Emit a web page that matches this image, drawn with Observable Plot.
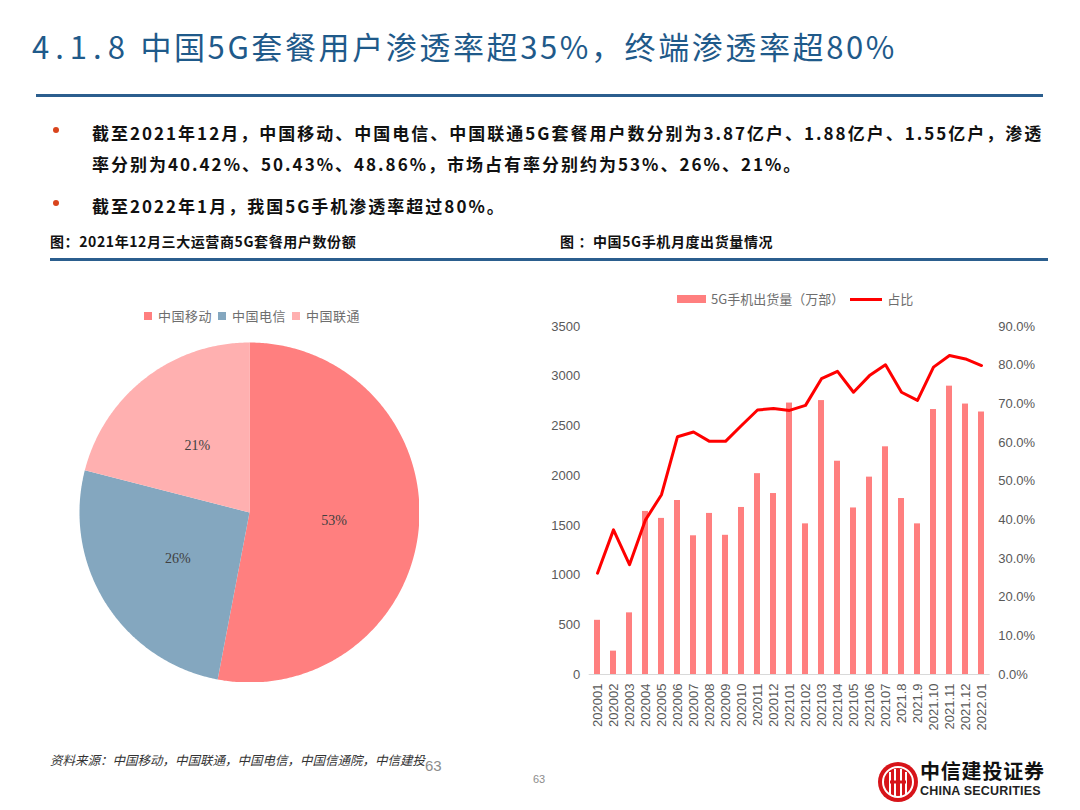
<!DOCTYPE html>
<html><head><meta charset="utf-8">
<script src="https://cdn.jsdelivr.net/npm/d3@7"></script>
<script src="https://cdn.jsdelivr.net/npm/@observablehq/plot@0.6"></script>
<style>
html,body{margin:0;padding:0}
body{width:1080px;height:810px;position:relative;background:#fff;font-family:"Noto Sans CJK SC","Noto Sans",sans-serif;overflow:hidden}
.abs{position:absolute;white-space:nowrap}
#title{left:32px;top:25px;font-size:31px;color:#1f5a8a;letter-spacing:2.6px;line-height:42px}
#title .num{letter-spacing:6px}
.rule{position:absolute;background:#2b5e8e}
.bul{position:absolute;width:6px;height:6px;border-radius:50%;background:#d9441c}
.txt{font-size:17px;font-weight:700;color:#111;letter-spacing:2px;line-height:24px}
.cap{font-size:14px;font-weight:700;color:#111;line-height:18px;letter-spacing:0.6px}
.leg{font-size:13px;color:#6e6e6e;line-height:16px;display:flex;align-items:center}
.sw{display:inline-block;width:8px;height:8px;margin-right:6px}
#src{left:50px;top:750px;font-size:12.5px;font-style:italic;color:#333}
</style></head><body>
<div id="title" class="abs"><span class="num">4.1.8</span>&nbsp;中国5G套餐用户渗透率超35%，终端渗透率超80%</div>
<div class="rule" style="left:36px;top:94px;width:1007px;height:3px"></div>
<div class="bul" style="left:53px;top:127px"></div>
<div class="abs txt" style="left:92px;top:121px">截至2021年12月，中国移动、中国电信、中国联通5G套餐用户数分别为3.87亿户、1.88亿户、1.55亿户，渗透</div>
<div class="abs txt" style="left:92px;top:152px">率分别为40.42%、50.43%、48.86%，市场占有率分别约为53%、26%、21%。</div>
<div class="bul" style="left:53px;top:200px"></div>
<div class="abs txt" style="left:92px;top:194px">截至2022年1月，我国5G手机渗透率超过80%。</div>
<div class="abs cap" style="left:50px;top:232px">图：2021年12月三大运营商5G套餐用户数份额</div>
<div class="abs cap" style="left:560px;top:232px">图 ：中国5G手机月度出货量情况</div>
<div class="rule" style="left:50px;top:258px;width:998px;height:3px"></div>

<div id="pieLegend" class="abs leg" style="left:144px;top:308px"></div>
<div id="pie" class="abs" style="left:79px;top:342px"></div>
<div id="barLegend" class="abs leg" style="left:677px;top:291px"></div>
<div id="bar" class="abs" style="left:530px;top:280px"></div>

<div id="src" class="abs">资料来源：中国移动，中国联通，中国电信，中国信通院，中信建投</div>
<div class="abs" style="left:425px;top:757px;font-size:15px;color:#8c8c8c;font-family:'Liberation Sans',Arial">63</div>
<div class="abs" style="left:533px;top:773px;font-size:11px;color:#8c8c8c;font-family:'Liberation Sans',Arial">63</div>
<svg class="abs" style="left:876px;top:760px" width="44" height="44" viewBox="0 0 44 44">
  <circle cx="22" cy="22" r="20" fill="#d7141a"/>
  <circle cx="22" cy="22" r="15" fill="none" stroke="#fff" stroke-width="2"/>
  <path d="M14 12 V34 M19 9 V36 M25 9 V36 M30 12 V34" stroke="#fff" stroke-width="2" fill="none"/>
  <path d="M14 22 H30" stroke="#d7141a" stroke-width="3"/>
</svg>
<div class="abs" style="left:920px;top:758px;font-size:20px;font-weight:700;color:#111;letter-spacing:0.8px;line-height:26px">中信建投证券</div>
<div class="abs" style="left:920px;top:784px;font-size:12.5px;font-weight:700;color:#222;font-family:'Liberation Sans',Arial;letter-spacing:0.2px;line-height:14px">CHINA SECURITIES</div>

<script>
// ---------- data ----------
const pieCompanies = ["中国移动", "中国电信", "中国联通"];
const pieShares = [53, 26, 21];
const pieColors = ["#ff7f7f", "#84a7bf", "#ffb0b0"];

const months = ["202001","202002","202003","202004","202005","202006","202007","202008","202009","202010","202011","202012",
  "202101","202102","202103","202104","202105","202106","202107","2021.8","2021.9","2021.10","2021.11","2021.12","2022.01"];
const shipments = [545, 235, 620, 1640, 1570, 1750, 1395, 1620, 1400, 1680, 2020, 1820,
  2730, 1515, 2755, 2145, 1675, 1985, 2290, 1770, 1515, 2665, 2900, 2720, 2640];
const share5G = [26.2, 37.4, 28.4, 40.0, 46.5, 61.5, 62.7, 60.3, 60.3, 64.4, 68.4, 68.8,
  68.3, 69.6, 76.5, 78.4, 73.0, 77.3, 80.1, 73.0, 70.9, 79.5, 82.5, 81.6, 79.9];
const leftTicks = [0, 500, 1000, 1500, 2000, 2500, 3000, 3500];
const rightTicks = [0, 10, 20, 30, 40, 50, 60, 70, 80, 90];
const barSeriesName = "5G手机出货量（万部）";
const lineSeriesName = "占比";

// ---------- pie ----------
const total = d3.sum(pieShares);
const piePts = [], pieLabels = [];
let cum = 0;
pieCompanies.forEach((name, i) => {
  const a0 = cum / total * 2 * Math.PI; cum += pieShares[i];
  const a1 = cum / total * 2 * Math.PI;
  piePts.push({name, x: 0, y: 0});
  const n = Math.max(2, Math.ceil((a1 - a0) / 0.01));
  for (let k = 0; k <= n; k++) { const a = a0 + (a1 - a0) * k / n; piePts.push({name, x: Math.sin(a), y: Math.cos(a)}); }
  const am = (a0 + a1) / 2;
  pieLabels.push({name, label: pieShares[i] + "%", x: 0.5 * Math.sin(am), y: 0.5 * Math.cos(am)});
});
const pie = Plot.plot({
  width: 340, height: 340, margin: 0,
  x: {domain: [-1, 1], axis: null}, y: {domain: [-1, 1], axis: null},
  color: {domain: pieCompanies, range: pieColors},
  marks: [
    Plot.line(piePts, {x: "x", y: "y", z: "name", fill: "name", stroke: "none"}),
    Plot.text(pieLabels, {x: "x", y: "y", text: "label", fill: "#404040", fontSize: 14, fontFamily: "Liberation Serif, serif"})
  ]
});
document.getElementById("pie").appendChild(pie);
const pl = document.getElementById("pieLegend");
pieCompanies.forEach((n, i) => {
  pl.insertAdjacentHTML("beforeend", `<span class="sw" style="background:${pieColors[i]}"></span><span style="margin-right:6px;letter-spacing:0.5px">${n}</span>`);
});

// ---------- bar + line ----------
const k = 3500 / 90;
const barData = months.map((m, i) => ({month: m, v: shipments[i], p: share5G[i]}));
const bar = Plot.plot({
  width: 520, height: 480, marginLeft: 58.7, marginRight: 60.3, marginTop: 46, marginBottom: 86,
  x: {domain: months, paddingInner: 0.64, paddingOuter: 0.32, label: null},
  y: {domain: [0, 3500], label: null},
  style: {fontFamily: "Liberation Sans, Arial, sans-serif", fontSize: "13px", color: "#595959", background: "transparent"},
  marks: [
    Plot.barY(barData, {x: "month", y: "v", fill: "#ff7f7f"}),
    Plot.ruleY([0], {stroke: "#d9d9d9", strokeWidth: 1}),
    Plot.line(barData, {x: "month", y: d => d.p * k, stroke: "#ff0000", strokeWidth: 3}),
    Plot.axisY({ticks: leftTicks, tickFormat: d3.format("d"), tickSize: 0, tickPadding: 9, label: null, anchor: "left"}),
    Plot.axisY({ticks: rightTicks.map(t => t * k), tickFormat: v => (v / k).toFixed(1) + "%", anchor: "right", tickSize: 0, tickPadding: 8, label: null}),
    Plot.axisX({tickRotate: -90, tickSize: 0, tickPadding: 9, label: null})
  ]
});
document.getElementById("bar").appendChild(bar);
document.getElementById("barLegend").innerHTML =
  `<span style="display:inline-block;width:29px;height:8px;background:#ff7f7f;margin-right:5px"></span><span>${barSeriesName}</span>` +
  `<span style="display:inline-block;width:32px;height:3px;background:#ff0000;margin:0 5px 0 6px"></span><span>${lineSeriesName}</span>`;
</script>
</body></html>
